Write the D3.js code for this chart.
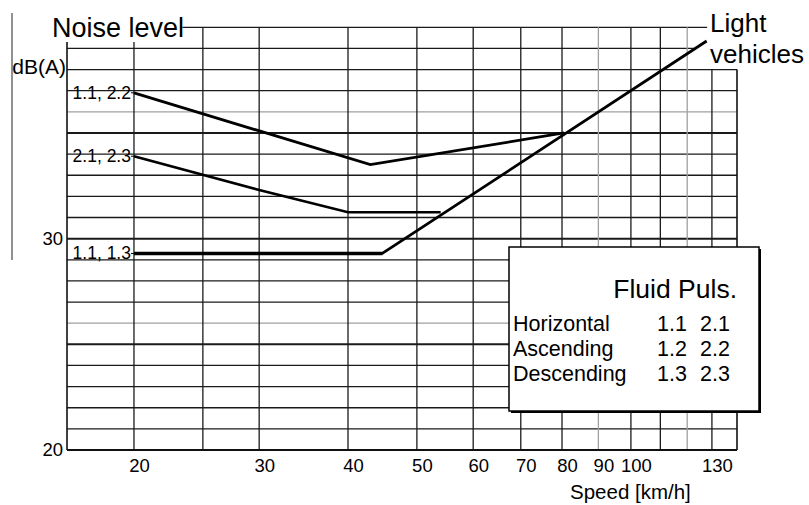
<!DOCTYPE html>
<html>
<head>
<meta charset="utf-8">
<script src="https://cdn.jsdelivr.net/npm/d3@7/dist/d3.min.js"></script>
<style>
  html, body { margin: 0; padding: 0; background: #fff; }
  svg { display: block; font-family: "Liberation Sans", Arial, sans-serif; }
</style>
</head>
<body>
<svg id="chart" width="809" height="505"></svg>
<script>
// ---------- data ----------
const speedDomain = [16.1, 141];            // km/h, log axis extent
const noiseDomain = [20, 40];               // dB(A)
const speedTicks = [20, 30, 40, 50, 60, 70, 80, 90, 100, 130];
const noiseTicks = [20, 30];
const speedGrid = [20, 25, 30, 40, 50, 60, 70, 80, 90, 100, 110, 120, 130];
const speedGridGray = [90, 120];
const noiseGrid = [21, 22, 23, 24, 25, 26, 27, 28, 29, 30, 31, 32, 33, 34, 35, 36, 37, 38, 39, 40];
const noiseGridThick = [25, 30, 35];
const noiseGridGray = [26, 36];

// series: "1.1, 2.2"
const speedA = [20, 43, 80.5];
const noiseA = [36.9, 33.5, 35.0];
// series: "2.1, 2.3"
const speedB = [20, 30, 40, 54];
const noiseB = [33.9, 32.3, 31.25, 31.25];
// series: "1.1, 1.3" / Light vehicles
const speedC = [20, 44.7, 127.8];
const noiseC = [29.3, 29.3, 39.35];
const seriesLabels = ["1.1, 2.2", "2.1, 2.3", "1.1, 1.3"];

const legendTitle = "Fluid Puls.";
const legendRows = ["Horizontal", "Ascending", "Descending"];
const legendCol1 = ["1.1", "1.2", "1.3"];
const legendCol2 = ["2.1", "2.2", "2.3"];

// ---------- layout ----------
const svg = d3.select("#chart");
const L = 67, R = 737, B = 450, T = 27.3;
const x = d3.scaleLog().domain(speedDomain).range([L, R]);
const y = d3.scaleLinear().domain(noiseDomain).range([B, T]);

const g = svg.append("g");

// left thin rule
g.append("line").attr("x1", 12).attr("x2", 12).attr("y1", 13).attr("y2", 260)
  .attr("stroke", "#222").attr("stroke-width", 1);

// horizontal grid
noiseGrid.forEach(v => {
  let x0 = speedDomain[0], x1 = speedDomain[1];
  if (v === 39) x1 = 123;
  if (v === 40) { x0 = 23.4; x1 = 128; }
  const thick = noiseGridThick.includes(v);
  const gray = noiseGridGray.includes(v);
  g.append("line")
    .attr("x1", x(x0)).attr("x2", x(x1))
    .attr("y1", y(v)).attr("y2", y(v))
    .attr("stroke", gray ? "#a0a0a0" : "#1a1a1a")
    .attr("stroke-width", thick ? 2 : 1.3);
});

// vertical grid
speedGrid.forEach(v => {
  let top = 40;
  if (v === 20) top = 39.3;
  if (v >= 130) top = 38;
  g.append("line")
    .attr("x1", x(v)).attr("x2", x(v))
    .attr("y1", y(top)).attr("y2", y(20))
    .attr("stroke", speedGridGray.includes(v) ? "#a0a0a0" : "#1a1a1a")
    .attr("stroke-width", 1.3);
});
// frame sides
g.append("line").attr("x1", x(speedDomain[0])).attr("x2", x(speedDomain[0]))
  .attr("y1", y(39.3)).attr("y2", y(20)).attr("stroke", "#111").attr("stroke-width", 1.6);
g.append("line").attr("x1", x(speedDomain[1])).attr("x2", x(speedDomain[1]))
  .attr("y1", y(38)).attr("y2", y(20)).attr("stroke", "#111").attr("stroke-width", 1.6);
g.append("line").attr("x1", x(speedDomain[0])).attr("x2", x(speedDomain[1]))
  .attr("y1", y(20)).attr("y2", y(20)).attr("stroke", "#111").attr("stroke-width", 1.8);

// series lines
const line = d3.line().x(d => x(d[0])).y(d => y(d[1]));
const series = [
  { s: speedA, n: noiseA, w: 2.8 },
  { s: speedB, n: noiseB, w: 2.6 },
  { s: speedC, n: noiseC, w: 2.8 }
];
series.forEach((sr, i) => {
  const pts = sr.s.map((v, k) => [v, sr.n[k]]);
  g.append("path").attr("d", line(pts)).attr("fill", "none")
    .attr("stroke", "#000").attr("stroke-width", sr.w)
    .attr("stroke-linejoin", "miter");
  g.append("line")
    .attr("x1", x(sr.s[0]) - 3).attr("x2", x(sr.s[0]))
    .attr("y1", y(sr.n[0])).attr("y2", y(sr.n[0]))
    .attr("stroke", "#000").attr("stroke-width", 1);
  g.append("text")
    .attr("x", x(sr.s[0]) - 3).attr("y", y(sr.n[0]))
    .attr("text-anchor", "end").attr("dominant-baseline", "central")
    .attr("font-size", 17.5).attr("fill", "#000")
    .text(seriesLabels[i]);
});
// thicker flat part of 1.1,1.3
g.append("path").attr("d", line([[speedC[0], noiseC[0]], [speedC[1], noiseC[1]]]))
  .attr("stroke", "#000").attr("stroke-width", 3.6).attr("fill", "none");

// axes (labels only)
const xAxis = d3.axisBottom(x).tickValues(speedTicks).tickFormat(d3.format("d")).tickSize(0).tickPadding(0);
const xa = svg.append("g").attr("transform", `translate(5,${B})`).call(xAxis);
xa.select(".domain").remove();
xa.selectAll("text").attr("font-size", 18.5).attr("font-family", "Liberation Sans, Arial, sans-serif")
  .attr("fill", "#000").attr("dy", null).attr("y", 22);

const yAxis = d3.axisLeft(y).tickValues(noiseTicks).tickFormat(d3.format("d")).tickSize(0).tickPadding(4);
const ya = svg.append("g").attr("transform", `translate(${L},0)`).call(yAxis);
ya.select(".domain").remove();
ya.selectAll("text").attr("font-size", 18.5).attr("font-family", "Liberation Sans, Arial, sans-serif")
  .attr("fill", "#000");

// titles
svg.append("text").attr("x", 52).attr("y", 37).attr("font-size", 27).text("Noise level");
svg.append("text").attr("x", 66).attr("y", 74).attr("text-anchor", "end").attr("font-size", 21).text("dB(A)");
svg.append("text").attr("x", 570).attr("y", 499).attr("font-size", 20.5).text("Speed [km/h]");
svg.append("text").attr("x", 710).attr("y", 32).attr("font-size", 26).text("Light");
svg.append("text").attr("x", 710).attr("y", 63).attr("font-size", 26).text("vehicles");

// legend box
const lb = { x: 509, y: 247, w: 250, h: 164 };
svg.append("rect").attr("x", lb.x + 2).attr("y", lb.y + 2).attr("width", lb.w).attr("height", lb.h).attr("fill", "#000");
svg.append("rect").attr("x", lb.x).attr("y", lb.y).attr("width", lb.w).attr("height", lb.h)
  .attr("fill", "#fff").attr("stroke", "#000").attr("stroke-width", 1.5);
svg.append("text").attr("x", 737).attr("y", 298).attr("text-anchor", "end").attr("font-size", 26.5).text(legendTitle);
const rowY = [331, 356, 381];
legendRows.forEach((r, i) => {
  svg.append("text").attr("x", 513).attr("y", rowY[i]).attr("font-size", 21.5).text(r);
  svg.append("text").attr("x", 657).attr("y", rowY[i]).attr("font-size", 21.5).text(legendCol1[i]);
  svg.append("text").attr("x", 700).attr("y", rowY[i]).attr("font-size", 21.5).text(legendCol2[i]);
});
</script>
</body>
</html>
